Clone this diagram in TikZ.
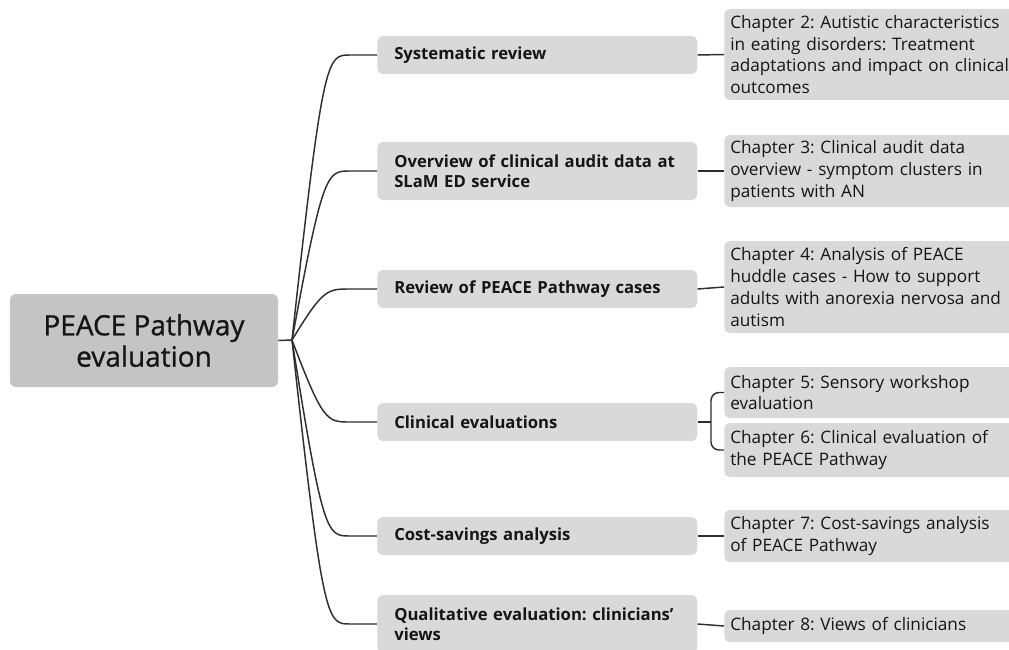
\documentclass[tikz,border=0pt]{standalone}
\usepackage{fontspec}
\setmainfont{Open Sans}[Ligatures=NoCommon]
\newfontface\rootface{Open Sans}[Ligatures=NoCommon, FakeBold=0.9]
\usetikzlibrary{calc}
\definecolor{rootgray}{HTML}{C4C4C4}
\definecolor{boxgray}{HTML}{D9D9D9}
\definecolor{ink}{HTML}{151515}
\definecolor{wire}{HTML}{2E2E2E}
\begin{document}
\frenchspacing
\begin{tikzpicture}[x=0.75pt,y=-0.75pt,
  rootbox/.style={fill=rootgray, rounded corners=4.5pt, minimum width=201pt,
    minimum height=69.75pt, align=center, text=ink, inner sep=0pt,
    font=\rootface\fontsize{21}{23.5}\selectfont},
  topicbox/.style={fill=boxgray, rounded corners=4pt, anchor=west,
    minimum width=240pt, text width=214.5pt, align=left, text=ink,
    inner xsep=12.75pt, inner ysep=0pt,
    font=\fontsize{12.5}{15}\selectfont\bfseries},
  chapbox/.style={fill=boxgray, rounded corners=4pt, anchor=west,
    minimum width=222pt, text width=216pt, align=left, text=ink,
    inner xsep=4.5pt, inner ysep=0pt,
    font=\fontsize{12.9}{16.3}\selectfont},
  link/.style={draw=wire, line width=1.1pt},
]
\useasboundingbox (0,0) rectangle (1009,649);

% central topic
\node[rootbox] (r) at (144,340.5) {PEACE Pathway\\evaluation};

% main branches
\node[topicbox, minimum height=28.5pt] (t1) at (377,55) {Systematic review};
\node[topicbox, minimum height=43.5pt] (t2) at (377,171) {Overview of clinical audit data at\\SLaM ED service};
\node[topicbox, minimum height=28.5pt] (t3) at (377,289) {Review of PEACE Pathway cases};
\node[topicbox, minimum height=28.5pt] (t4) at (377,422) {Clinical evaluations};
\node[topicbox, minimum height=28.5pt] (t5) at (377,536) {Cost-savings analysis};
\node[topicbox, minimum height=43.5pt] (t6) at (377,624) {Qualitative evaluation: clinicians'\\views};

% chapters
\node[chapbox, minimum height=68.25pt] (c2) at (724,54.5) {Chapter 2: Autistic characteristics\\in eating disorders: Treatment\\adaptations and impact on clinical\\outcomes};
\node[chapbox, minimum height=54pt] (c3) at (724,171) {Chapter 3: Clinical audit data\\overview - symptom clusters in\\patients with AN};
\node[chapbox, minimum height=69pt] (c4) at (724,287) {Chapter 4: Analysis of PEACE\\huddle cases - How to support\\adults with anorexia nervosa and\\autism};
\node[chapbox, minimum height=38.25pt] (c5) at (724,392.5) {Chapter 5: Sensory workshop\\evaluation};
\node[chapbox, minimum height=40.5pt] (c6) at (724,450) {Chapter 6: Clinical evaluation of\\the PEACE Pathway};
\node[chapbox, minimum height=39pt] (c7) at (724,536) {Chapter 7: Cost-savings analysis\\of PEACE Pathway};
\node[chapbox, minimum height=24pt] (c8) at (724,626) {Chapter 8: Views of clinicians};

% fan of curved connectors from the central topic
\coordinate (hub) at (292,340);
\draw[link] (r.east) -- (hub);
\foreach \t in {t1,t2,t3,t4,t5,t6}{
  \draw[link] (hub) .. controls ($(\t.west)+(-54,0)$) and ($(\t.west)+(-50,0)$) .. ($(\t.west)+(-27,0)$) -- (\t.west);
}

% branch to chapter links
\draw[link] (t1.east) -- (c2.west);
\draw[link] (t2.east) -- (c3.west);
\draw[link] (t3.east) -- (c4.west);
\draw[link] (t5.east) -- (c7.west);
\draw[link] (t6.east) -- (c8.west);

% bracket splitting the clinical evaluations branch
\coordinate (fork) at (711,422);
\draw[link] (t4.east) -- (fork);
\draw[link, rounded corners=6pt] (c5.west) -| (fork) |- (c6.west);
\end{tikzpicture}
\end{document}
